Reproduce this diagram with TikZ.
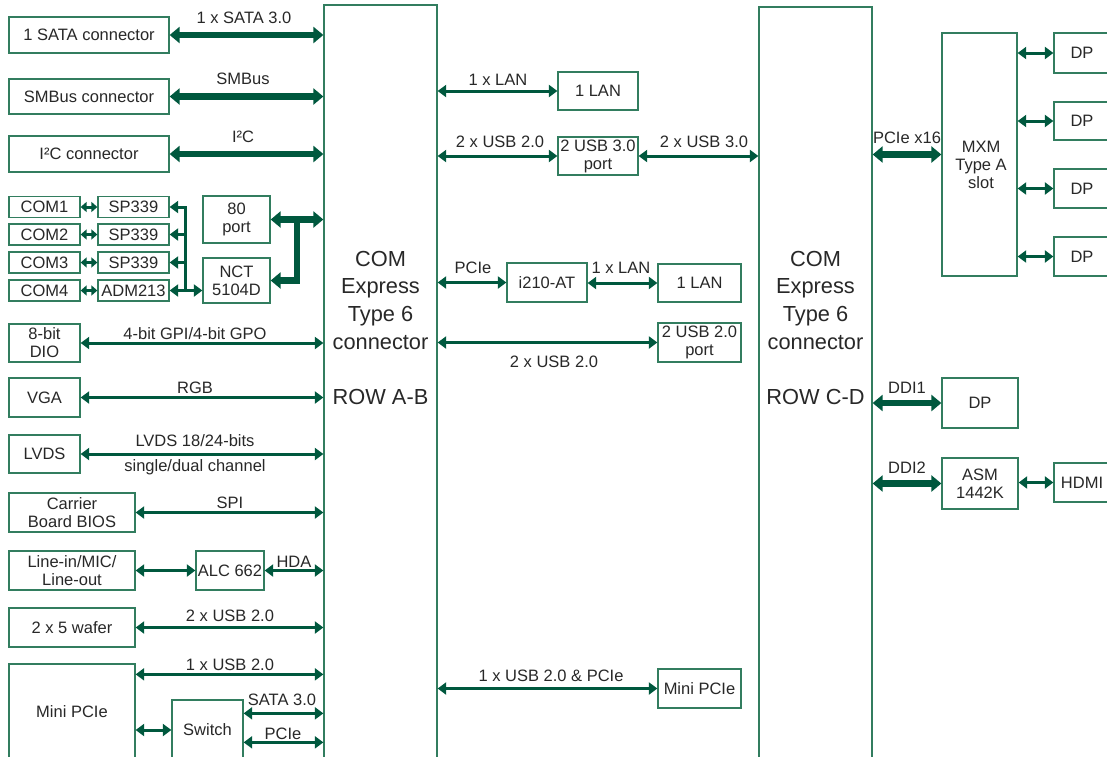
\documentclass[tikz,border=0pt]{standalone}
\usepackage{fontspec}
\setmainfont{Liberation Sans}
\usetikzlibrary{arrows.meta}
\definecolor{busgreen}{RGB}{0,88,62}
\definecolor{boxgreen}{RGB}{50,125,95}
\definecolor{txtgray}{RGB}{40,40,40}
\newcommand{\boxfont}{\fontsize{16.5}{18}\selectfont}
\newcommand{\bigfont}{\fontsize{21.8}{27.7}\selectfont}

\begin{document}
\begin{tikzpicture}[x=1pt,y=-1pt,line width=1.3pt,
  Ts/.tip={Triangle[width=12pt,length=8.5pt]},
  Tm/.tip={Triangle[width=10pt,length=6pt]},
  Tb/.tip={Triangle[width=16pt,length=10pt]},
  box/.style={draw=boxgreen,fill=white,text=txtgray,inner sep=0pt,align=center,font=\boxfont},
  lbl/.style={text=txtgray,inner sep=0pt,font=\boxfont,text height=12pt,text depth=0pt},
  bus/.style={draw=busgreen,line width=3pt,Ts-Ts},
  shortbus/.style={draw=busgreen,line width=3pt,Tm-Tm},
  fatbus/.style={draw=busgreen,line width=6.5pt,Tb-Tb}]
\useasboundingbox (0,0) rectangle (1107,756);
\clip (0,0) rectangle (1107,756);
\node[box,minimum width=113pt,minimum height=755pt] (comab) at (380.5,382.5) {};
\node[box,minimum width=113pt,minimum height=753pt] (comcd) at (815.5,383.5) {};
\node[text=txtgray,align=center,font=\bigfont,inner sep=0pt] (comabtxt) at (380.5,328) {COM\\Express\\Type 6\\connector\\[27.7pt]ROW A-B};
\node[text=txtgray,align=center,font=\bigfont,inner sep=0pt] (comcdtxt) at (815.5,328) {COM\\Express\\Type 6\\connector\\[27.7pt]ROW C-D};
\node[box,minimum width=160pt,minimum height=36pt] (sata) at (89,35) {1 SATA connector};
\node[box,minimum width=160pt,minimum height=35pt] (smbus) at (89,96.5) {SMBus connector};
\node[box,minimum width=160pt,minimum height=36pt] (iic) at (89,154) {I²C connector};
\node[box,minimum width=71pt,minimum height=21pt] (com1) at (44.5,207) {COM1};
\node[box,minimum width=71pt,minimum height=21pt] (com2) at (44.5,234.5) {COM2};
\node[box,minimum width=71pt,minimum height=21pt] (com3) at (44.5,262.5) {COM3};
\node[box,minimum width=71pt,minimum height=21pt] (com4) at (44.5,290.5) {COM4};
\node[box,minimum width=71pt,minimum height=21pt] (sp1) at (133.5,207) {SP339};
\node[box,minimum width=71pt,minimum height=21pt] (sp2) at (133.5,234.5) {SP339};
\node[box,minimum width=71pt,minimum height=21pt] (sp3) at (133.5,262.5) {SP339};
\node[box,minimum width=71pt,minimum height=21pt] (adm) at (133.5,290.5) {ADM213};
\node[box,minimum width=67pt,minimum height=47pt] (port80) at (236.5,219.5) {80\\port};
\node[box,minimum width=67pt,minimum height=45pt] (nct) at (236.5,280.5) {NCT\\5104D};
\node[box,minimum width=71pt,minimum height=38pt] (dio) at (44.5,343) {8-bit\\DIO};
\node[box,minimum width=71pt,minimum height=39pt] (vga) at (44.5,397.5) {VGA};
\node[box,minimum width=71pt,minimum height=38pt] (lvds) at (44.5,454) {LVDS};
\node[box,minimum width=126pt,minimum height=39pt] (bios) at (72,512.5) {Carrier\\Board BIOS};
\node[box,minimum width=126pt,minimum height=39pt] (audio) at (72,570.5) {Line-in/MIC/\\Line-out};
\node[box,minimum width=68pt,minimum height=39pt] (alc) at (230,570.5) {ALC 662};
\node[box,minimum width=126pt,minimum height=39pt] (wafer) at (72,627.5) {2 x 5 wafer};
\node[box,minimum width=126pt,minimum height=96pt] (minil) at (72,712) {Mini PCIe};
\node[box,minimum width=71pt,minimum height=60pt] (switch) at (207.5,730) {Switch};
\node[box,minimum width=80pt,minimum height=38pt] (lan1) at (598,91) {1 LAN};
\node[box,minimum width=80pt,minimum height=38pt] (usb3p) at (598,156) {2 USB 3.0\\port};
\node[box,minimum width=80pt,minimum height=39pt] (i210) at (547,282.5) {i210-AT};
\node[box,minimum width=83pt,minimum height=38pt] (lan2) at (699.5,283) {1 LAN};
\node[box,minimum width=83pt,minimum height=39pt] (usb2p) at (699.5,342.5) {2 USB 2.0\\port};
\node[box,minimum width=83pt,minimum height=39pt] (minir) at (699.5,688.5) {Mini PCIe};
\node[box,minimum width=75pt,minimum height=243pt] (mxm) at (979.5,154.5) {};
\node[text=txtgray,align=center,font=\boxfont,inner sep=0pt] (mxmtxt) at (981,165) {MXM\\Type A\\slot};
\node[box,minimum width=56pt,minimum height=40pt] (dp1) at (1082,53) {DP};
\node[box,minimum width=56pt,minimum height=38pt] (dp2) at (1082,121) {DP};
\node[box,minimum width=56pt,minimum height=39pt] (dp3) at (1082,188.5) {DP};
\node[box,minimum width=56pt,minimum height=39pt] (dp4) at (1082,256.5) {DP};
\node[box,minimum width=76pt,minimum height=50pt] (dp5) at (980,403) {DP};
\node[box,minimum width=76pt,minimum height=51pt] (asm) at (980,483.5) {ASM\\1442K};
\node[box,minimum width=56pt,minimum height=39pt] (hdmi) at (1082,482.5) {HDMI};
\coordinate (busx) at (185,0);
\coordinate (fatx) at (297,0);
\draw[fatbus] (sata) -- (sata -| comab.west);
\draw[fatbus] (smbus) -- (smbus -| comab.west);
\draw[fatbus] (iic) -- (iic -| comab.west);
\draw[shortbus] (com1) -- (sp1);
\draw[shortbus] (com2) -- (sp2);
\draw[shortbus] (com3) -- (sp3);
\draw[shortbus] (com4) -- (adm);
\draw[bus] (sp1.east) -- (sp1.east -| busx) |- (nct.west |- adm.east);
\draw[bus,Ts-] (sp2.east) -- (sp2.east -| busx);
\draw[bus,Ts-] (sp3.east) -- (sp3.east -| busx);
\draw[bus,Ts-] (adm.east) -- (adm.east -| busx);
\draw[fatbus] (port80) -- (port80 -| comab.west);
\draw[fatbus,-Tb] (port80 -| fatx) |- (nct.east);
\draw[bus] (dio) -- (dio -| comab.west);
\draw[bus] (vga) -- (vga -| comab.west);
\draw[bus] (lvds) -- (lvds -| comab.west);
\draw[bus] (bios) -- (bios -| comab.west);
\draw[bus] (audio) -- (alc);
\draw[bus] (alc) -- (alc -| comab.west);
\draw[bus] (wafer) -- (wafer -| comab.west);
\draw[bus] ([yshift=-11pt]minil.north east) coordinate (usbl) -- (usbl -| comab.west);
\draw[bus] (minil.east |- switch) -- (switch);
\draw[bus] ([yshift=-14pt]switch.north east) coordinate (satal) -- (satal -| comab.west);
\draw[bus] ([yshift=-43pt]switch.north east) coordinate (pciel) -- (pciel -| comab.west);
\draw[bus] (lan1 -| comab.east) -- (lan1);
\draw[bus] (usb3p -| comab.east) -- (usb3p);
\draw[bus] (usb3p) -- (usb3p -| comcd.west);
\draw[bus] (i210 -| comab.east) -- (i210);
\draw[bus] (i210.east |- lan2) -- (lan2);
\draw[bus] (usb2p -| comab.east) -- (usb2p);
\draw[bus] (minir -| comab.east) -- (minir);
\draw[fatbus] (mxm -| comcd.east) -- (mxm);
\draw[bus] (dp1 -| mxm.east) -- (dp1);
\draw[bus] (dp2 -| mxm.east) -- (dp2);
\draw[bus] (dp3 -| mxm.east) -- (dp3);
\draw[bus] (dp4 -| mxm.east) -- (dp4);
\draw[fatbus] (dp5 -| comcd.east) -- (dp5);
\draw[fatbus] (asm -| comcd.east) -- (asm);
\draw[bus] (asm.east |- hdmi) -- (hdmi);
\node[lbl] (lsata) at (244,17) {1 x SATA 3.0};
\node[lbl] (lsmbus) at (243,78) {SMBus};
\node[lbl] (liic) at (243,136) {I²C};
\node[lbl] (ldio) at (195,333) {4-bit GPI/4-bit GPO};
\node[lbl] (lvga) at (195,387) {RGB};
\node[lbl] (llvds) at (195,440) {LVDS 18/24-bits};
\node[lbl] (llvdsb) at (195,465) {single/dual channel};
\node[lbl] (lbios) at (230,502) {SPI};
\node[lbl] (lhda) at (294,561) {HDA};
\node[lbl] (lwafer) at (230,615) {2 x USB 2.0};
\node[lbl] (lusbl) at (230,664) {1 x USB 2.0};
\node[lbl] (lsatal) at (282,699) {SATA 3.0};
\node[lbl] (lpciel) at (283,733) {PCIe};
\node[lbl] (llan1) at (498,79) {1 x LAN};
\node[lbl] (lusb2a) at (500,141) {2 x USB 2.0};
\node[lbl] (lusb3) at (704,141) {2 x USB 3.0};
\node[lbl] (li210) at (473,267) {PCIe};
\node[lbl] (llan2) at (621,267) {1 x LAN};
\node[lbl] (lusb2b) at (554,361) {2 x USB 2.0};
\node[lbl] (lminir) at (551,675) {1 x USB 2.0 \& PCIe};
\node[lbl] (lmxm) at (907,137) {PCIe x16};
\node[lbl] (lddi1) at (907,387) {DDI1};
\node[lbl] (lddi2) at (907,467) {DDI2};
\end{tikzpicture}
\end{document}
